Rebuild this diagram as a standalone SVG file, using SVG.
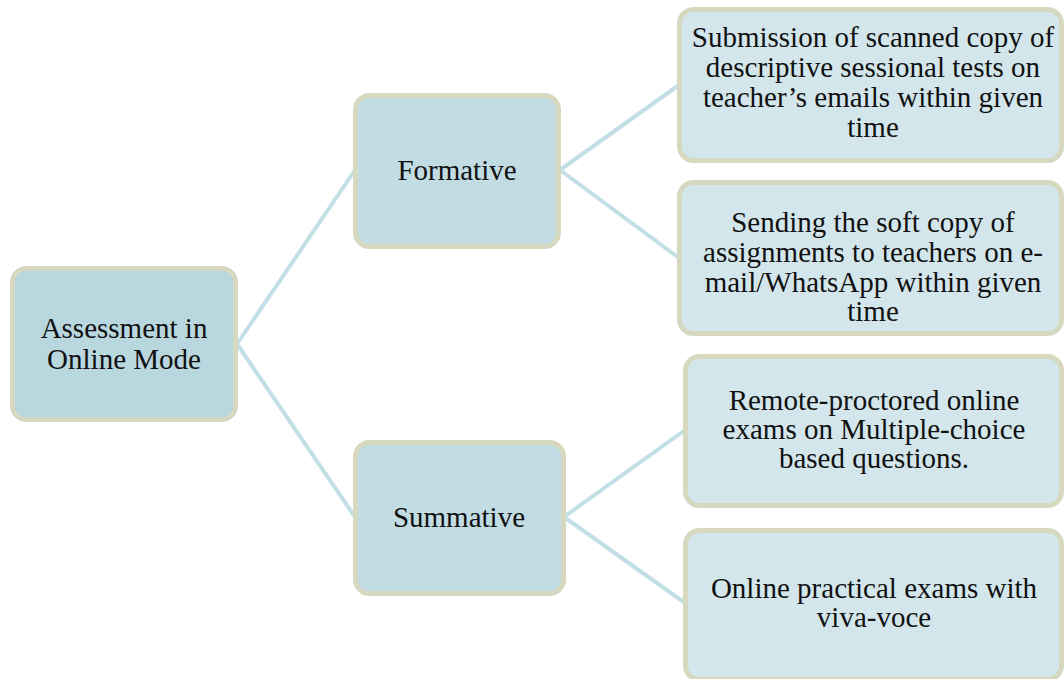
<svg xmlns="http://www.w3.org/2000/svg" width="1064" height="679" viewBox="0 0 1064 679">
<style>
.box{stroke:#d6d8c0;stroke-width:5}
.l1{fill:#b9d7df}
.l2{fill:#c2dce3}
.l3{fill:#d3e6eb}
.conn{stroke:#c2dfe6;stroke-width:4;fill:none}
text{font-family:"Liberation Serif","Times New Roman",serif;font-size:29px;fill:#111;text-anchor:middle}
</style>
<rect width="1064" height="679" fill="#ffffff"/>
<g id="connectors">
<line class="conn" x1="237" y1="344" x2="355" y2="170"/>
<line class="conn" x1="237" y1="344" x2="355" y2="517"/>
<line class="conn" x1="560" y1="170" x2="679" y2="85"/>
<line class="conn" x1="560" y1="170" x2="679" y2="258"/>
<line class="conn" x1="564" y1="517" x2="685" y2="430"/>
<line class="conn" x1="564" y1="517" x2="685" y2="603"/>
</g>
<g id="root">
<rect class="box l1" x="12.5" y="268.5" width="223" height="151" rx="14"/>
<text x="124" y="338">Assessment in</text>
<text x="124" y="369">Online Mode</text>
</g>
<g id="formative">
<rect class="box l2" x="355.5" y="95.5" width="203" height="151" rx="14"/>
<text x="457" y="180">Formative</text>
</g>
<g id="summative">
<rect class="box l2" x="355.5" y="442.5" width="208" height="151" rx="14"/>
<text x="459" y="527">Summative</text>
</g>
<g id="leaf1">
<rect class="box l3" x="679.5" y="9.5" width="382" height="151" rx="14"/>
<text x="873" y="47">Submission of scanned copy of</text>
<text x="873" y="77">descriptive sessional tests on</text>
<text x="873" y="107">teacher’s emails within given</text>
<text x="873" y="137">time</text>
</g>
<g id="leaf2">
<rect class="box l3" x="679.5" y="182.5" width="382" height="151" rx="14"/>
<text x="873" y="232">Sending the soft copy of</text>
<text x="873" y="262">assignments to teachers on e-</text>
<text x="873" y="292">mail/WhatsApp within given</text>
<text x="873" y="321">time</text>
</g>
<g id="leaf3">
<rect class="box l3" x="685.5" y="356.5" width="376" height="149" rx="14"/>
<text x="874" y="410">Remote-proctored online</text>
<text x="874" y="439">exams on Multiple-choice</text>
<text x="874" y="468">based questions.</text>
</g>
<g id="leaf4">
<rect class="box l3" x="685.5" y="530.5" width="376" height="149" rx="14"/>
<text x="874" y="598">Online practical exams with</text>
<text x="874" y="627">viva-voce</text>
</g>
</svg>
